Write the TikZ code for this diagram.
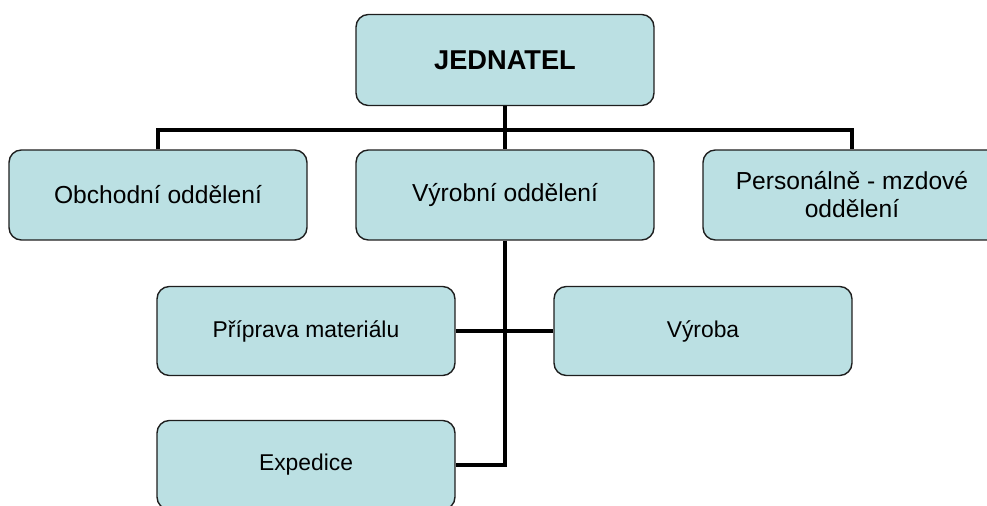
\documentclass[tikz,border=0pt]{standalone}
\usepackage{fontspec}
\setmainfont{Liberation Sans}
\usetikzlibrary{positioning}

\definecolor{boxFill}{RGB}{187,224,227}
\definecolor{boxLine}{RGB}{30,30,30}

\begin{document}
\begin{tikzpicture}[x=0.02cm, y=-0.02cm,
        unit/.style={rectangle, draw=boxLine, line width=0.8pt, rounded corners=7pt, fill=boxFill, minimum width=5.96cm, minimum height=1.8cm, align=center, font=\fontsize{14}{16}\selectfont},
        subunit/.style={unit, minimum height=1.78cm, font=\fontsize{13}{15}\selectfont},
        chief/.style={unit, minimum height=1.82cm, font=\fontsize{15.5}{18}\selectfont\bfseries},
        link/.style={draw=black, line width=2.6pt}
    ]
        \useasboundingbox (0,0) rectangle (987,506);
        % top
        \node[chief] (boss) at (505,60) {JEDNATEL};
        \coordinate (bus) at (505,130);
        % departments
        \node[unit] (obch) at (158,195) {Obchodní oddělení};
        \node[unit] (vyr) at (505,195) {Výrobní oddělení};
        \node[unit] (pers) at (852,195) {Personálně - mzdové\\oddělení};
        % production
        \node[subunit] (prip) at (306,331) {Příprava materiálu};
        \node[subunit] (vyroba) at (703,331) {Výroba};
        \node[subunit] (exp) at (306,465) {Expedice};
        % lines
        \draw[link] (boss.south) -- (vyr.north);
        \draw[link] (obch.north) |- (bus) -| (pers.north);
        \draw[link] (vyr.south) |- (exp.east);
        \draw[link] (prip.east) -- (vyroba.west);
\end{tikzpicture}
\end{document}
